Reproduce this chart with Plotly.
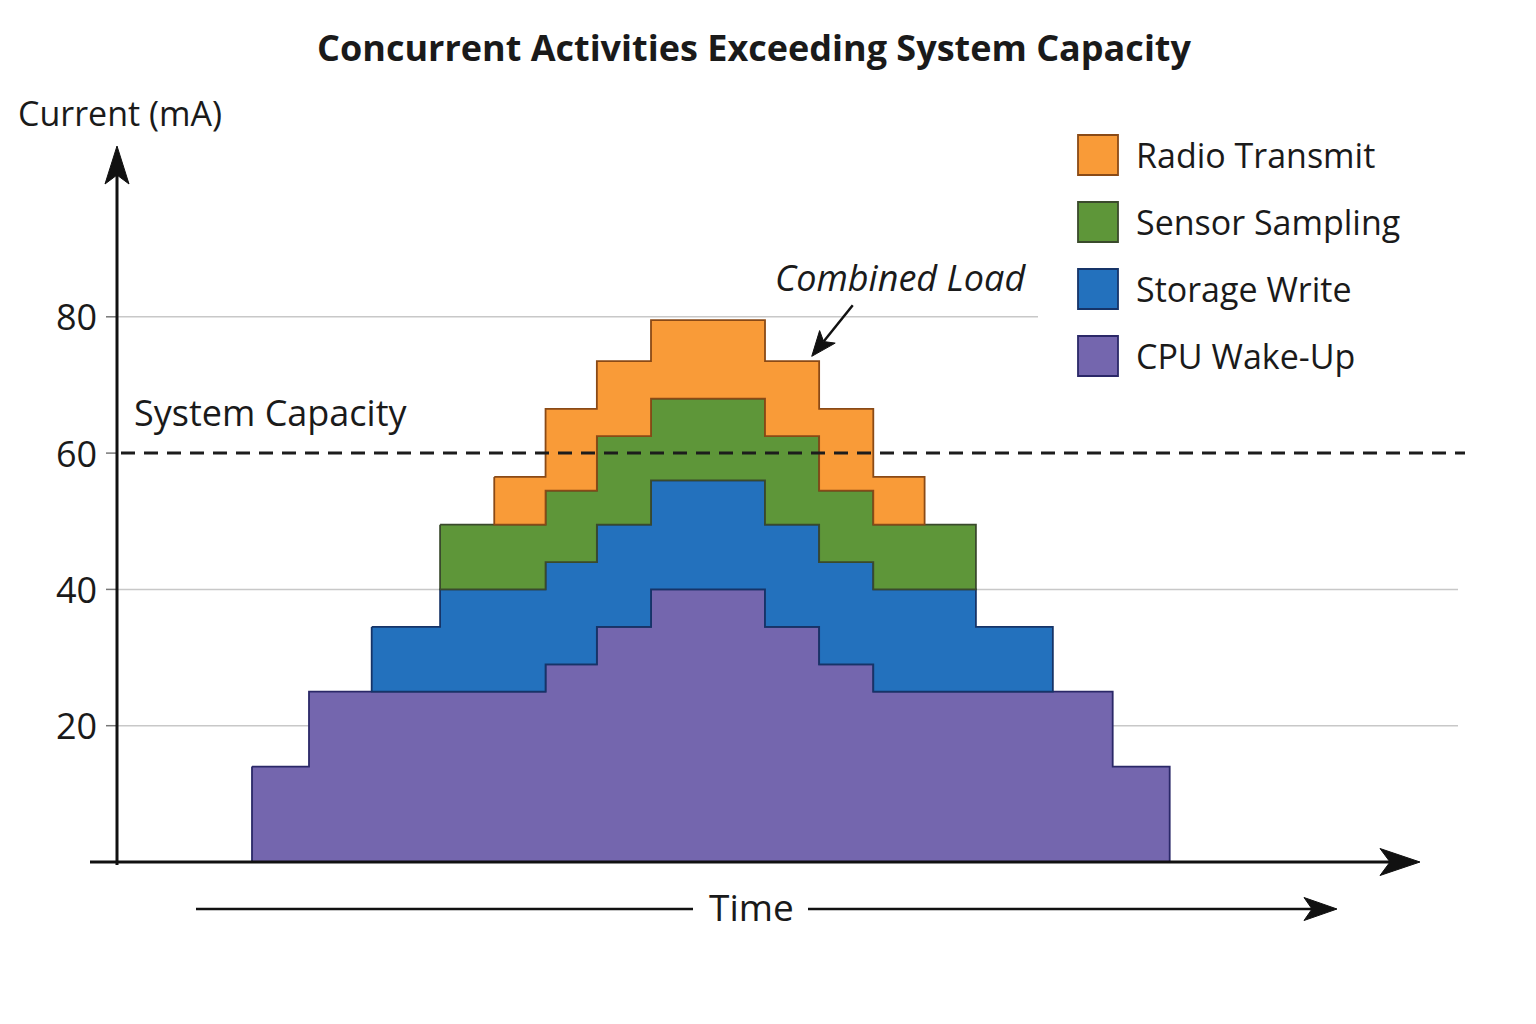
import math
import plotly.graph_objects as go

# ---------------- data ----------------
time_edges = [0, 1, 2.1, 3.3, 4.25, 5.15, 6.05, 7, 9, 9.95, 10.9, 11.8, 12.7, 14.05, 15.1, 16.1]
series_names = ["CPU Wake-Up", "Storage Write", "Sensor Sampling", "Radio Transmit"]
cpu_wakeup = [14, 25, 25, 25, 25, 29, 34.5, 40, 34.5, 29, 25, 25, 25, 25, 14]
storage_write = [0, 0, 9.5, 15, 15, 15, 15, 16, 15, 15, 15, 15, 9.5, 0, 0]
sensor_sampling = [0, 0, 0, 9.5, 9.5, 10.5, 13, 12, 13, 10.5, 9.5, 9.5, 0, 0, 0]
radio_transmit = [0, 0, 0, 0, 7, 12, 11, 11.5, 11, 12, 7, 0, 0, 0, 0]
system_capacity = 60
y_tick_values = [20, 40, 60, 80]
y_tick_labels = ["20", "40", "60", "80"]
grid_values = [20, 40, 80]

title_text = "Concurrent Activities Exceeding System Capacity"
y_title = "Current (mA)"
x_title = "Time"
capacity_label = "System Capacity"
combined_label = "Combined Load"

# ---------------- styles ----------------
fill_colors = ["#7466AE", "#2371BD", "#5E9639", "#F99B38"]
edge_colors = ["#2B2868", "#163468", "#3A4A2C", "#8A4A16"]
FONT = "Open Sans"
TXT = "#1a1a1a"
PAGE_OFFSET = 8          # default body margin of the html page
W, H = 1536 - 2 * PAGE_OFFSET, 1024 - 2 * PAGE_OFFSET

# pixel (screen) <-> data helpers (layout only)
PX_PER_T, T0_PX = 57.0, 252.0
PX_PER_MA, ZERO_PX = 6.815, 862.0


def tx(px):
    return (px - T0_PX) / PX_PER_T


def my(py):
    return (ZERO_PX - py) / PX_PER_MA


layers = [cpu_wakeup, storage_write, sensor_sampling, radio_transmit]
fig = go.Figure()

bottom = [0.0] * len(cpu_wakeup)
for li, vals in enumerate(layers):
    top = [b + v for b, v in zip(bottom, vals)]
    runs, cur = [], []
    for k, v in enumerate(vals):
        if v > 0:
            cur.append(k)
        elif cur:
            runs.append(cur)
            cur = []
    if cur:
        runs.append(cur)
    for run in runs:
        xs, ys = [], []
        for k in run:
            xs += [time_edges[k], time_edges[k + 1]]
            ys += [top[k], top[k]]
        for k in reversed(run):
            xs += [time_edges[k + 1], time_edges[k]]
            ys += [bottom[k], bottom[k]]
        xs.append(xs[0])
        ys.append(ys[0])
        fig.add_trace(go.Scatter(
            x=xs, y=ys, mode="lines", fill="toself",
            fillcolor=fill_colors[li],
            line=dict(color=edge_colors[li], width=1.8),
            name=series_names[li], showlegend=False, hoverinfo="skip"))
    bottom = top
totals = bottom

shapes = []
annotations = []

# grid lines
for gv in grid_values:
    x_end = tx(1038) if gv == max(grid_values) else tx(1458)
    shapes.append(dict(type="line", xref="x", yref="y", x0=tx(117), x1=x_end, y0=gv, y1=gv,
                       line=dict(color="#c8c8c8", width=1.5), layer="below"))
# tick marks
for tv in y_tick_values:
    shapes.append(dict(type="line", xref="x", yref="y", x0=tx(106), x1=tx(117), y0=tv, y1=tv,
                       line=dict(color="#777777", width=1.5), layer="below"))

# capacity line
shapes.append(dict(type="line", xref="x", yref="y", x0=tx(121), x1=tx(1465),
                   y0=system_capacity, y1=system_capacity,
                   line=dict(color="#1c1c1c", width=3, dash="14px,9px"), layer="above"))


def arrowhead(xd, yd, angle_deg, L, Wd, notch, color="#111111"):
    a = math.radians(angle_deg)
    ca, sa = math.cos(a), math.sin(a)
    pts = [(0, 0), (-L, Wd / 2), (-L + notch, 0), (-L, -Wd / 2)]
    rp = [(px * ca - py * sa, px * sa + py * ca) for px, py in pts]
    path = "M{:.2f},{:.2f} ".format(*rp[0]) + " ".join("L{:.2f},{:.2f}".format(*p) for p in rp[1:]) + " Z"
    return dict(type="path", xref="x", yref="y", xsizemode="pixel", ysizemode="pixel",
                xanchor=xd, yanchor=yd, path=path, fillcolor=color,
                line=dict(color=color, width=1), layer="above")


# y axis with arrow
shapes.append(dict(type="line", xref="x", yref="y", x0=tx(117), x1=tx(117), y0=my(865), y1=my(172),
                   line=dict(color="#111111", width=3), layer="above"))
shapes.append(arrowhead(tx(117), my(146), 90, 38, 24, 9))
# x axis with arrow
shapes.append(dict(type="line", xref="x", yref="y", x0=tx(90), x1=tx(1395), y0=0, y1=0,
                   line=dict(color="#111111", width=3), layer="above"))
shapes.append(arrowhead(tx(1420), 0, 0, 40, 27, 10))
# time arrow
shapes.append(dict(type="line", xref="x", yref="y", x0=tx(196), x1=tx(693), y0=my(909), y1=my(909),
                   line=dict(color="#111111", width=2.5)))
shapes.append(dict(type="line", xref="x", yref="y", x0=tx(808), x1=tx(1315), y0=my(909), y1=my(909),
                   line=dict(color="#111111", width=2.5)))
shapes.append(arrowhead(tx(1337), my(909), 0, 33, 23, 8))

# combined load arrow pointing to the total of bin 8
tip_x = time_edges[9] - 0.13
tip_y = totals[8] + 0.7
dx_px, dy_px = 41.0, 51.0  # tail offset (right, up) in pixels
tail_x = tip_x + dx_px / PX_PER_T
tail_y = tip_y + dy_px / PX_PER_MA
ang = math.degrees(math.atan2(-dy_px, -dx_px))
L_head = 25
hyp = math.hypot(dx_px, dy_px)
shapes.append(dict(type="line", xref="x", yref="y", x0=tail_x, y0=tail_y,
                   x1=tip_x + (L_head - 6) * dx_px / hyp / PX_PER_T,
                   y1=tip_y + (L_head - 6) * dy_px / hyp / PX_PER_MA,
                   line=dict(color="#111111", width=2.5), layer="above"))
shapes.append(arrowhead(tip_x, tip_y, ang, L_head, 20, 6))

# legend (manual, large squares)
legend_order = list(range(len(series_names)))[::-1]
for row, li in enumerate(legend_order):
    cy = 155 + 67 * row
    shapes.append(dict(type="rect", xref="x", yref="y", x0=tx(1078), x1=tx(1118),
                       y0=my(cy + 20), y1=my(cy - 20), fillcolor=fill_colors[li],
                       line=dict(color=edge_colors[li], width=1.8)))
    annotations.append(dict(x=tx(1134), y=my(cy), xref="x", yref="y", text=series_names[li],
                            showarrow=False, xanchor="left", yanchor="middle",
                            font=dict(family=FONT, size=34, color=TXT)))

# tick labels
for tv, tl in zip(y_tick_values, y_tick_labels):
    annotations.append(dict(x=tx(99), y=tv, xref="x", yref="y", text=tl, showarrow=False,
                            xanchor="right", yanchor="middle",
                            font=dict(family=FONT, size=36, color=TXT)))

annotations += [
    dict(x=tx(754), y=my(47), xref="x", yref="y", text="<b>" + title_text + "</b>", showarrow=False,
         xanchor="center", yanchor="middle", font=dict(family=FONT, size=36, color=TXT)),
    dict(x=tx(16), y=my(113), xref="x", yref="y", text=y_title, showarrow=False,
         xanchor="left", yanchor="middle", font=dict(family=FONT, size=34, color=TXT)),
    dict(x=tx(132), y=my(412), xref="x", yref="y", text=capacity_label, showarrow=False,
         xanchor="left", yanchor="middle", font=dict(family=FONT, size=36, color=TXT)),
    dict(x=tx(751), y=my(906), xref="x", yref="y", text=x_title, showarrow=False,
         xanchor="center", yanchor="middle", font=dict(family=FONT, size=37, color=TXT)),
    dict(x=tx(900), y=my(277), xref="x", yref="y", text="<i>" + combined_label + "</i>", showarrow=False,
         xanchor="center", yanchor="middle", font=dict(family=FONT, size=36, color=TXT)),
]

# screen pixel -> figure pixel: the page places the figure PAGE_OFFSET px in
x_lo = tx(PAGE_OFFSET)
x_hi = tx(PAGE_OFFSET + W)
y_hi = my(PAGE_OFFSET)
y_lo = my(PAGE_OFFSET + H)

fig.update_layout(
    width=W, height=H,
    margin=dict(l=0, r=0, t=0, b=0),
    paper_bgcolor="white", plot_bgcolor="white",
    xaxis=dict(range=[x_lo, x_hi], visible=False, fixedrange=True),
    yaxis=dict(range=[y_lo, y_hi], visible=False, fixedrange=True),
    shapes=shapes, annotations=annotations, showlegend=False,
)

fig.write_html("out.html")
